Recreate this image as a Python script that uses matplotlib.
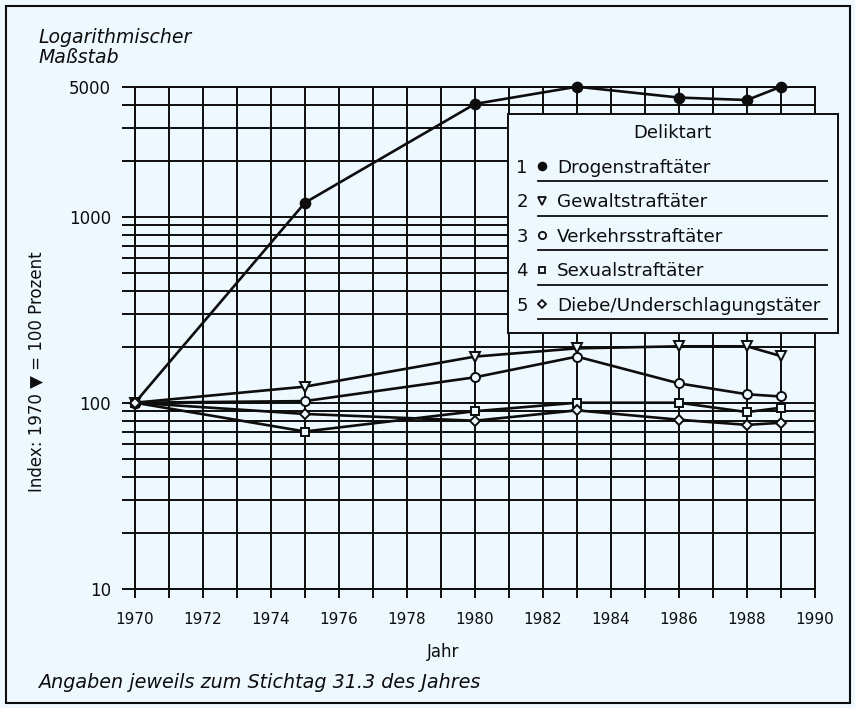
import matplotlib
matplotlib.use("Agg")
import matplotlib.pyplot as plt
from matplotlib.ticker import FixedLocator, FixedFormatter, LogLocator, NullFormatter
from matplotlib.patches import Rectangle

# ---- data ----
years = [1970, 1975, 1980, 1983, 1986, 1988, 1989]
drogen = [100, 1190, 4040, 5000, 4370, 4240, 5000]
gewalt = [100, 122, 177, 196, 201, 201, 178]
verkehr = [100, 102, 137, 177, 127, 111, 108]
sexual = [100, 70, 90, 100, 100, 89, 94]
diebe = [100, 87, 80, 91, 81, 76, 78]
series_names = ["Drogenstraftäter", "Gewaltstraftäter", "Verkehrsstraftäter",
                "Sexualstraftäter", "Diebe/Underschlagungstäter"]
x_ticks = list(range(1970, 1991, 2))
x_minor = list(range(1971, 1990, 2))
y_ticks = [10, 100, 1000, 5000]
y_ticklabels = ["10", "100", "1000", "5000"]

BG = "#eef9ff"
INK = "#0d0d0d"
plt.rcParams["font.family"] = ["DejaVu Sans"]

W, H = 855, 708
fig = plt.figure(figsize=(W / 100, H / 100), dpi=100, facecolor=BG)

ax = fig.add_axes([135 / W, 1 - 588.7 / H, 680 / W, (588.7 - 86.7) / H])
ax.set_facecolor(BG)
ax.set_yscale("log")
ax.set_xlim(1970, 1990)
ax.set_ylim(10, 5000)

ax.yaxis.set_major_locator(FixedLocator(y_ticks))
ax.yaxis.set_major_formatter(FixedFormatter(y_ticklabels))
ax.yaxis.set_minor_locator(LogLocator(base=10, subs=range(2, 10)))
ax.yaxis.set_minor_formatter(NullFormatter())
ax.xaxis.set_major_locator(FixedLocator(x_ticks))
ax.xaxis.set_minor_locator(FixedLocator(x_minor))

ax.grid(True, which="both", color=INK, lw=1.4, zorder=1)
ax.set_axisbelow(True)
for s in ax.spines.values():
    s.set_color(INK)
    s.set_linewidth(1.4)

ax.tick_params(axis="y", which="both", direction="out", length=9.4, width=1.4,
               color=INK, pad=8, labelsize=12, labelcolor=INK)
ax.tick_params(axis="x", which="both", direction="out", length=6.5, width=1.4,
               color=INK, pad=10, labelsize=11, labelcolor=INK)

styles = [
    dict(marker="o", ms=7, mfc=INK),
    dict(marker="v", ms=7, mfc=BG),
    dict(marker="o", ms=6.5, mfc=BG),
    dict(marker="s", ms=5.5, mfc=BG),
    dict(marker="D", ms=5, mfc=BG),
]
for vals, st in zip([drogen, gewalt, verkehr, sexual, diebe], styles):
    ax.plot(years, vals, color=INK, lw=1.9, mec=INK, mew=1.4,
            clip_on=False, zorder=3, **st)

# ---- legend box ----
lax = fig.add_axes([508 / W, 1 - 333 / H, 330 / W, 219 / H], zorder=5)
lax.set_facecolor(BG)
lax.set_xlim(0, 330)
lax.set_ylim(219, 0)
lax.set_xticks([])
lax.set_yticks([])
for s in lax.spines.values():
    s.set_color(INK)
    s.set_linewidth(1.4)
lax.text(164, 24.3, "Deliktart", ha="center", va="baseline", fontsize=13, color=INK)
for i, (name, st) in enumerate(zip(series_names, styles)):
    yb = 58.7 + 34.5 * i
    lax.text(14, yb, str(i + 1), ha="center", va="baseline", fontsize=13, color=INK)
    lax.plot(34, yb - 6.5, linestyle="none", marker=st["marker"],
             ms=st["ms"] * 0.8, mfc=st["mfc"], mec=INK, mew=1.3)
    lax.text(49, yb, name, ha="left", va="baseline", fontsize=13.2, color=INK)
    lax.plot([30, 319], [yb + 8.5, yb + 8.5], color=INK, lw=1.3)

# ---- texts ----
fig.text(38 / W, 1 - 43.3 / H, "Logarithmischer", style="italic", fontsize=13.6,
         ha="left", va="baseline", color=INK)
fig.text(38 / W, 1 - 62.7 / H, "Maßstab", style="italic", fontsize=13.6,
         ha="left", va="baseline", color=INK)
fig.text(37 / W, 1 - 372 / H, "Index: 1970 ▼ = 100 Prozent", rotation=90,
         fontsize=12, ha="center", va="center", color=INK)
fig.text(443 / W, 1 - 652 / H, "Jahr", fontsize=12, ha="center", va="center", color=INK)
fig.text(38 / W, 1 - 688.3 / H, "Angaben jeweils zum Stichtag 31.3 des Jahres",
         style="italic", fontsize=13.8, ha="left", va="baseline", color=INK)

fig.patches.append(Rectangle((6 / W, 5 / H), 844 / W, 697 / H, transform=fig.transFigure,
                             fill=False, lw=1.5, ec=INK))

fig.savefig("out.png", dpi=100, facecolor=BG)
